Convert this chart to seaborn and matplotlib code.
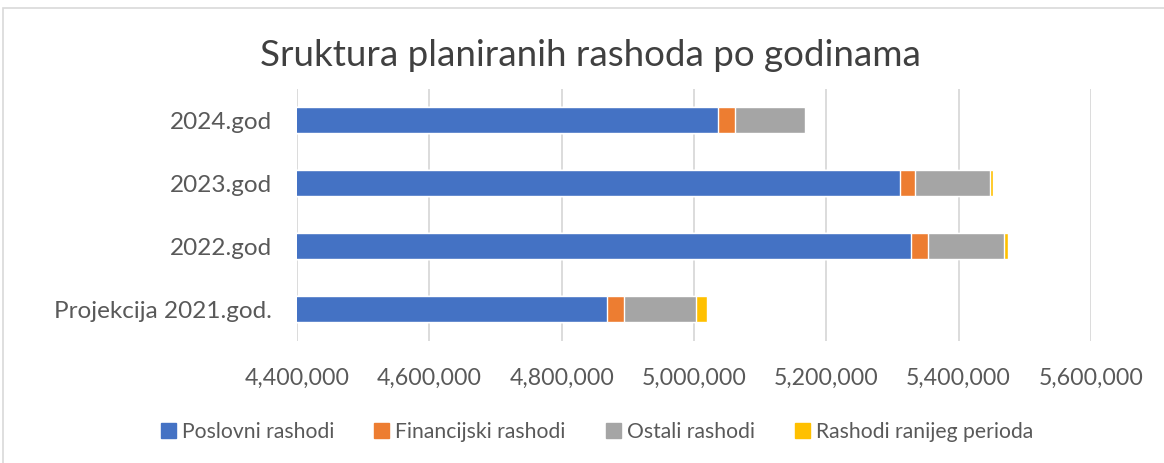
import pandas as pd
import numpy as np
import matplotlib
matplotlib.use("Agg")
import matplotlib.pyplot as plt
import seaborn as sns
from matplotlib.patches import Rectangle, Patch
from matplotlib.ticker import FuncFormatter

# podaci (procijenjeni sa slike)
godine = ["2024.god", "2023.god", "2022.god", "Projekcija 2021.god."]
serije = ["Poslovni rashodi", "Financijski rashodi", "Ostali rashodi", "Rashodi ranijeg perioda"]
poslovni = [5036000, 5311000, 5328000, 4869000]
financijski = [25500, 23700, 25100, 24700]
ostali = [106500, 113400, 114900, 109300]
raniji = [2000, 4500, 7100, 16100]
boje = ["#4472C4", "#ED7D31", "#A5A5A5", "#FFC000"]

df = pd.DataFrame({"Godina": godine, serije[0]: poslovni, serije[1]: financijski,
                   serije[2]: ostali, serije[3]: raniji})
kum = df[serije].cumsum(axis=1)
kum["Godina"] = df["Godina"]

sns.set_theme(style="white")
plt.rcParams['font.family'] = ['Lato', 'DejaVu Sans']

fig = plt.figure(figsize=(11.64, 4.63), dpi=100)
ax = fig.add_axes([297 / 1164, 1 - 340.5 / 463, 794 / 1164, 252 / 463])

# slojevi od najveceg prema najmanjem (stacked)
for s, c in reversed(list(zip(serije, boje))):
    sns.barplot(data=kum, y="Godina", x=s, order=godine, color=c, width=0.4,
                orient="h", ax=ax, saturation=1, zorder=3)

ax.set_xlim(4400000, 5600000)
ax.set_xticks(np.arange(4400000, 5600001, 200000))
ax.xaxis.set_major_formatter(FuncFormatter(lambda v, p: f"{int(v):,}"))
ax.grid(axis="x", color="#d9d9d9", linewidth=1.3, zorder=0)
ax.set_axisbelow(True)
for sp in ax.spines.values():
    sp.set_visible(False)
ax.set_xlabel("")
ax.set_ylabel("")
ax.tick_params(axis="x", length=0, pad=20, labelsize=16.7, labelcolor="#595959")
ax.tick_params(axis="y", length=0, pad=18, labelsize=17.5, labelcolor="#595959")

fig.suptitle("Sruktura planiranih rashoda po godinama", x=0.507, y=0.915,
             fontsize=26.5, color="#404040")

ruckice = [Patch(facecolor=c, edgecolor=c) for c in boje]
fig.legend(ruckice, serije, loc="center", bbox_to_anchor=(0.513, 0.067), ncol=4,
           frameon=False, fontsize=15.2, labelcolor="#595959", handlelength=0.7,
           handleheight=0.7, handletextpad=0.3, columnspacing=1.9)

fig.patches.append(Rectangle((3 / 1164, -0.01), 1.0, 1 - 8 / 463 + 0.01,
                             transform=fig.transFigure, fill=False,
                             edgecolor="#d9d9d9", linewidth=1.2))

fig.savefig("out.png", dpi=100)
